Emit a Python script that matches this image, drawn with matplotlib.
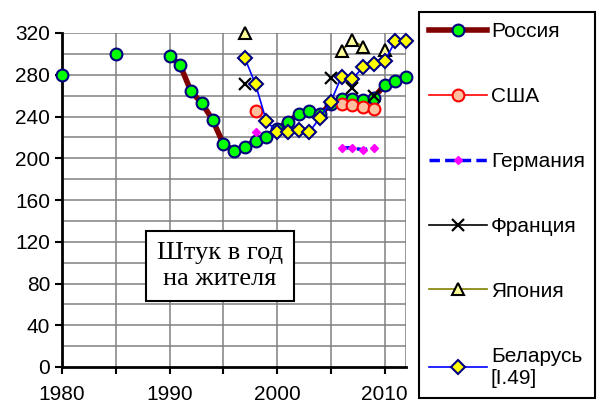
import matplotlib
matplotlib.use('Agg')
import matplotlib.pyplot as plt
import numpy as np

plt.rcParams['font.family'] = ['Liberation Sans', 'DejaVu Sans']

# Russia: isolated early points plus continuous series from 1990
russia_years = [1980, 1985, 1990, 1991, 1992, 1993, 1994, 1995, 1996, 1997, 1998, 1999,
                2000, 2001, 2002, 2003, 2004, 2005, 2006, 2007, 2008, 2009, 2010, 2011, 2012]
russia_vals = [280, 300, 298, 289, 264, 253, 237, 214, 207, 211, 217, 220,
               228, 235, 242, 245, 242, 252, 257, 257, 256, 258, 270, 274, 278]

usa_years = [1998, 2006, 2007, 2008, 2009]
usa_vals = [245, 252, 251, 249, 247]

germany_years = [1998, 2006, 2007, 2008, 2009]
germany_vals = [225, 210, 210, 208, 210]

france_years = [1997, 2005, 2007, 2009]
france_vals = [271, 277, 267, 260]

japan_years = [1997, 2006, 2007, 2008, 2010]
japan_vals = [320, 303, 313, 307, 304]

belarus_years = [1997, 1998, 1999, 2000, 2001, 2002, 2003, 2004, 2005, 2006, 2007, 2008,
                 2009, 2010, 2011, 2012]
belarus_vals = [296, 271, 236, 225, 225, 227, 225, 239, 254, 278, 276, 287,
                290, 293, 312, 312]

x_labels = ['1980', '', '1990', '', '2000', '', '2010']


def split_runs(years, vals):
    """Split series into runs of consecutive years (Excel leaves gaps)."""
    runs, cur = [], [[years[0]], [vals[0]]]
    for y, v in zip(years[1:], vals[1:]):
        if y - cur[0][-1] == 1:
            cur[0].append(y)
            cur[1].append(v)
        else:
            runs.append(cur)
            cur = [[y], [v]]
    runs.append(cur)
    return runs


fig = plt.figure(figsize=(5.98, 4.08), dpi=100)
ax = fig.add_axes([62 / 598, 1 - 367 / 408, (406 - 62) / 598, (367 - 33) / 408])

series = [
    ('Россия', russia_years, russia_vals,
     dict(color='#800000', lw=4, marker='o', ms=8.5, mfc='#00FF00', mec='#000080', mew=1.5, zorder=3)),
    ('США', usa_years, usa_vals,
     dict(color='#FF0000', lw=1.2, marker='o', ms=8.5, mfc='#FFC0A0', mec='#FF0000', mew=1.5, zorder=4)),
    ('Германия', germany_years, germany_vals,
     dict(color='#0000FF', lw=2.5, ls=(0, (3, 1.5)), marker='D', ms=4.5, mfc='#FF00FF', mec='#FF00FF',
          mew=1, zorder=4)),
    ('Франция', france_years, france_vals,
     dict(color='black', lw=1.2, marker='x', ms=9, mfc='none', mec='black', mew=1.6, zorder=6)),
    ('Япония', japan_years, japan_vals,
     dict(color='#808000', lw=1.2, marker='^', ms=9, mfc='#FFFF99', mec='black', mew=1.5, zorder=5)),
    ('Беларусь\n[I.49]', belarus_years, belarus_vals,
     dict(color='#0000FF', lw=1.2, marker='D', ms=7, mfc='#FFFF00', mec='#000080', mew=1.5, zorder=5)),
]

for label, years, vals, st in series:
    for i, (ry, rv) in enumerate(split_runs(years, vals)):
        ax.plot(ry, rv, label=label if i == 0 else None, clip_on=False, **st)

ax.set_xlim(1980, 2012)
ax.set_ylim(0, 320)
ax.set_xticks(range(1980, 2011, 5))
ax.set_xticklabels(x_labels)
ax.set_yticks(range(0, 321, 40))
ax.tick_params(axis='both', labelsize=15, length=5, width=1.5, direction='out', color='black')
ax.tick_params(axis='x', pad=8)

# gridlines at every 5 years plus the right edge, every 20 vertically
for xv in list(range(1985, 2011, 5)) + [2012]:
    ax.axvline(xv, color='#808080', lw=1.1, zorder=0)
for yv in range(20, 321, 20):
    ax.axhline(yv, color='#808080', lw=1.1, zorder=0)

for side in ['top', 'right']:
    ax.spines[side].set_visible(False)
for side in ['left', 'bottom']:
    ax.spines[side].set_linewidth(2)
    ax.spines[side].set_zorder(2)

ax.text(1994.7, 97, 'Штук в год\nна жителя', family=['Liberation Serif', 'DejaVu Serif'],
        fontsize=19, ha='center', va='center', linespacing=1.25,
        bbox=dict(boxstyle='square,pad=0.42', facecolor='white', edgecolor='black', lw=1.5),
        zorder=7)

leg = fig.legend(loc='upper left', bbox_to_anchor=(419 / 598, 1 - 12 / 408),
                 fontsize=15, labelspacing=2.2, handlelength=2.75, handletextpad=0.2,
                 borderpad=0.5, borderaxespad=0, fancybox=False, framealpha=1,
                 edgecolor='black')
leg.get_frame().set_linewidth(1.5)

fig.savefig('out.png', dpi=100)
